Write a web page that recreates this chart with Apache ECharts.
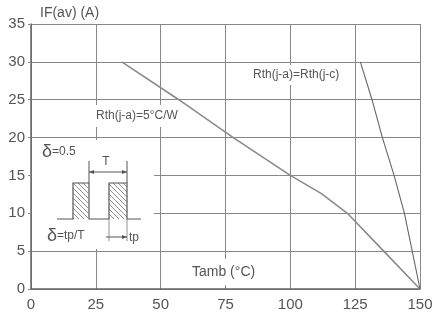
<!DOCTYPE html>
<html>
<head>
<meta charset="utf-8">
<script src="https://cdn.jsdelivr.net/npm/echarts@6/dist/echarts.min.js"></script>
<style>
  html, body { margin: 0; padding: 0; background: #fff; }
  #main { width: 436px; height: 317px; }
</style>
</head>
<body>
<div id="main"></div>
<script>
// curve for Rth(j-a) = 5 C/W
var tempA = [35, 57, 78, 100, 112, 122, 136, 150];
var currentA = [30, 25, 20, 15, 12.6, 10, 5, 0];
// curve for Rth(j-a) = Rth(j-c)
var tempC = [127, 131.5, 135.5, 140, 144, 147, 150];
var currentC = [30, 25, 20, 15, 10, 5, 0];

var xMax = 150, xStep = 25;
var yMax = 35, yStep = 5;

function pairs(xs, ys) {
    var out = [];
    for (var i = 0; i < xs.length; i++) out.push([xs[i], ys[i]]);
    return out;
}

// hatch pattern for the pulses
var hatch = document.createElement('canvas');
hatch.width = 5; hatch.height = 5;
var hc = hatch.getContext('2d');
hc.strokeStyle = '#777';
hc.lineWidth = 0.8;
hc.beginPath();
hc.moveTo(0, 0); hc.lineTo(5, 5);
hc.stroke();

var chart = echarts.init(document.getElementById('main'), null, { renderer: 'canvas' });
var font = '"Liberation Sans", Arial, sans-serif';
var ink = '#555';
var lineStyle = { stroke: '#555', lineWidth: 1 };

var option = {
    animation: false,
    backgroundColor: '#fff',
    grid: { left: 31, right: 16, top: 24, bottom: 28 },
    xAxis: {
        type: 'value', min: 0, max: xMax, interval: xStep,
        axisLine: { lineStyle: { color: '#666', width: 1.5 } },
        axisTick: { show: false },
        axisLabel: { color: ink, fontSize: 15, fontFamily: font, margin: 8 },
        splitLine: { lineStyle: { color: '#888', width: 1 } }
    },
    yAxis: {
        type: 'value', min: 0, max: yMax, interval: yStep,
        axisLine: { show: true, lineStyle: { color: '#666', width: 1.5 } },
        axisTick: { show: true, length: 3, lineStyle: { color: '#888' } },
        axisLabel: { color: ink, fontSize: 15, fontFamily: font, margin: 6 },
        splitLine: { lineStyle: { color: '#888', width: 1 } }
    },
    series: [{
        type: 'line',
        data: pairs(tempA, currentA),
        showSymbol: false,
        lineStyle: { color: '#8a8a8a', width: 1.6 },
        z: 3
    }, {
        type: 'line',
        data: pairs(tempC, currentC),
        showSymbol: false,
        lineStyle: { color: '#666', width: 1.1 },
        z: 3
    }],
    graphic: [
        // axis title
        { type: 'text', x: 40, y: 13, z: 10,
          style: { text: 'IF(av) (A)', font: '14px ' + font, fill: ink, textVerticalAlign: 'middle' } },
        // annotations
        { type: 'text', x: 190, y: 272, z: 10,
          style: { text: 'Tamb (\u00b0C)', font: '14px ' + font, fill: ink, textVerticalAlign: 'middle',
                   backgroundColor: '#fff', padding: [6, 2] } },
        { type: 'text', x: 252, y: 75, z: 10,
          style: { text: 'Rth(j-a)=Rth(j-c)', font: '12px ' + font, fill: ink, textVerticalAlign: 'middle',
                   backgroundColor: '#fff', padding: [4, 1] } },
        { type: 'text', x: 95, y: 116, z: 10,
          style: { text: 'Rth(j-a)=5\u00b0C/W', font: '12px ' + font, fill: ink, textVerticalAlign: 'middle',
                   backgroundColor: '#fff', padding: [5, 1] } },
        // duty cycle inset
        { type: 'rect', z: 9, shape: { x: 32, y: 140, width: 122, height: 109 },
          style: { fill: '#fff' } },
        { type: 'text', x: 42, y: 152, z: 10,
          style: { text: '{d|\u03b4}{t|=0.5}', fill: ink, textVerticalAlign: 'middle',
                   rich: { d: { font: '18px ' + font, fill: ink }, t: { font: '12px ' + font, fill: ink } } } },
        { type: 'text', x: 47, y: 236, z: 10,
          style: { text: '{d|\u03b4}{t|=tp/T}', fill: ink, textVerticalAlign: 'middle',
                   rich: { d: { font: '18px ' + font, fill: ink }, t: { font: '12px ' + font, fill: ink } } } },
        { type: 'rect', z: 10, shape: { x: 73, y: 183, width: 15, height: 36 },
          style: { fill: { image: hatch, repeat: 'repeat' } } },
        { type: 'rect', z: 10, shape: { x: 109, y: 183, width: 18, height: 36 },
          style: { fill: { image: hatch, repeat: 'repeat' } } },
        { type: 'polyline', z: 11,
          shape: { points: [[57, 219], [73, 219], [73, 183], [89, 183], [89, 219], [109, 219], [109, 183], [127, 183], [127, 219], [141, 219]] },
          style: { stroke: '#555', lineWidth: 1.2, fill: null } },
        { type: 'line', z: 11, shape: { x1: 89, y1: 161, x2: 89, y2: 183 }, style: lineStyle },
        { type: 'line', z: 11, shape: { x1: 127, y1: 161, x2: 127, y2: 183 }, style: lineStyle },
        { type: 'line', z: 11, shape: { x1: 89, y1: 172, x2: 127, y2: 172 }, style: lineStyle },
        { type: 'polygon', z: 11, shape: { points: [[89, 172], [94, 170], [94, 174]] }, style: { fill: '#555' } },
        { type: 'polygon', z: 11, shape: { points: [[127, 172], [122, 170], [122, 174]] }, style: { fill: '#555' } },
        { type: 'text', x: 106, y: 162, z: 11,
          style: { text: 'T', font: '12px ' + font, fill: ink, textAlign: 'center', textVerticalAlign: 'middle' } },
        { type: 'line', z: 11, shape: { x1: 109, y1: 219, x2: 109, y2: 241 }, style: { stroke: '#777', lineWidth: 0.8 } },
        { type: 'line', z: 11, shape: { x1: 127, y1: 219, x2: 127, y2: 241 }, style: { stroke: '#777', lineWidth: 0.8 } },
        { type: 'line', z: 11, shape: { x1: 106, y1: 237, x2: 127, y2: 237 }, style: lineStyle },
        { type: 'polygon', z: 11, shape: { points: [[127, 237], [122, 235], [122, 239]] }, style: { fill: '#555' } },
        { type: 'text', x: 129, y: 238, z: 11,
          style: { text: 'tp', font: '12px ' + font, fill: ink, textVerticalAlign: 'middle' } }
    ]
};

chart.setOption(option);
</script>
</body>
</html>
